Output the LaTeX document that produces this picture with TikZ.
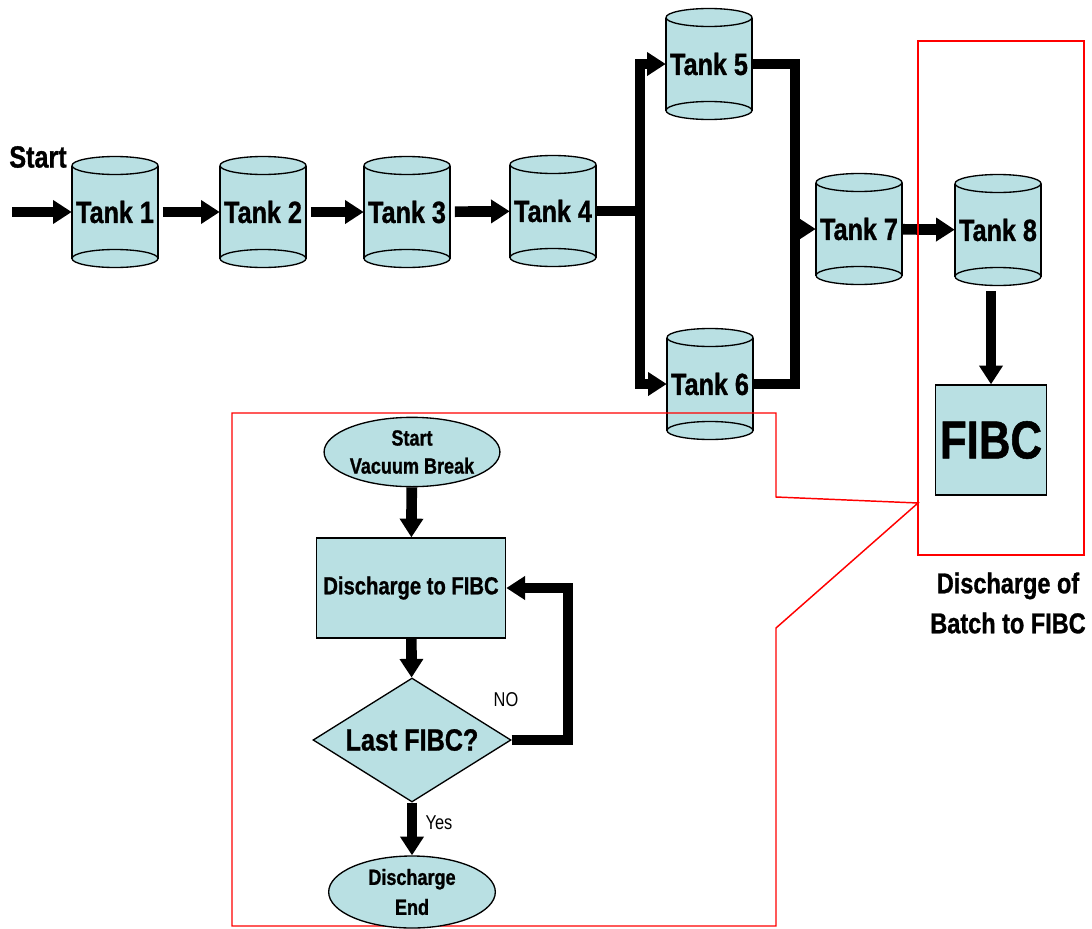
\documentclass[tikz,border=0pt]{standalone}
\usepackage{fontspec}
\newfontfamily\narrow{Liberation Sans}[FakeStretch=0.82, BoldFeatures={FakeBold=1}]
\usetikzlibrary{shapes.geometric, arrows.meta}
\definecolor{tankblue}{RGB}{185,224,227}
\tikzstyle{flow} = [draw, line width=8pt, -{Triangle[length=14pt,width=17pt]}]
\tikzstyle{pipe} = [draw, line width=8pt, line join=miter]
% Tank: Name, Mitte, Text
\newcommand{\tank}[3]{%
  \begin{scope}[shift={(#2)}]
    \fill[tankblue] (-43,-46.5) rectangle (43,46.5);
    \draw[line width=1pt] (-43,-46.5) -- (-43,46.5) (43,-46.5) -- (43,46.5);
    \filldraw[fill=tankblue, line width=1pt] (0,46.5) ellipse [x radius=43, y radius=9];
    \filldraw[fill=tankblue, line width=1pt] (0,-46.5) ellipse [x radius=43, y radius=9];
  \end{scope}
  \node[tanktext] (#1) at (#2) {#3};
}

\begin{document}
\begin{tikzpicture}[x=0.75pt, y=-0.75pt,
    tanktext/.style={minimum width=64.5pt, minimum height=69.75pt, inner sep=0pt,
                     font=\narrow\bfseries\fontsize{23}{27}\selectfont},
    box/.style={draw, fill=tankblue, line width=1pt, inner sep=0pt, align=center},
    note/.style={font=\narrow\fontsize{15}{18}\selectfont}]
  \useasboundingbox (0,0) rectangle (1092,928);

  %Tanks
  \tank{t1}{115,212}{Tank 1}
  \tank{t2}{263,212}{Tank 2}
  \tank{t3}{407,212}{Tank 3}
  \tank{t4}{553,211}{Tank 4}
  \tank{t5}{709,64}{Tank 5}
  \tank{t6}{710,384}{Tank 6}
  \tank{t7}{859,229}{Tank 7}
  \tank{t8}{998,230}{Tank 8}
  \node[font=\narrow\bfseries\fontsize{23}{27}\selectfont] (start) at (38,157) {Start};
  \coordinate (in) at (12,212);
  \coordinate (fork) at (640,211);
  \coordinate (join) at (795,229);

  \draw[flow] (in) -- (t1.west);
  \draw[flow, shorten <=3.5pt] (t1) -- (t2);
  \draw[flow, shorten <=3.5pt] (t2) -- (t3);
  \draw[flow, shorten <=3.5pt] (t3) -- (t4);
  \draw[pipe] (t4.east) -- (fork);
  \draw[pipe, line cap=rect] (fork |- t5) -- (fork |- t6);
  \draw[flow] (fork |- t5) -- (t5.west);
  \draw[flow] (fork |- t6) -- (t6.west);
  \draw[pipe] (t5.east) -| (join) |- (t6.east);
  \draw[flow] (join) -- (t7.west);
  \draw[flow] (t7) -- (t8);

  %FIBC
  \node[box, minimum width=83pt, minimum height=82.5pt,
        font=\narrow\bfseries\fontsize{40}{48}\selectfont] (fibc) at (991,440) {FIBC};
  \draw[flow] ([yshift=-11pt]t8.south -| fibc.north) -- (fibc.north);
  \draw[red, line width=1.1pt] (918,41) rectangle (1084,555);
  \node[align=center, font=\narrow\bfseries\fontsize{21.5}{30}\selectfont] (batch) at (1008,603)
    {Discharge of\\Batch to FIBC};

  %Ablaufdiagramm
  \draw[red, line width=1.1pt] (232,413) -- (776,413) -- (776,497) -- (918,503)
    -- (776,628) -- (776,926) -- (232,926) -- cycle;
  \node[box, ellipse, minimum width=126pt, minimum height=52pt,
        font=\narrow\bfseries\fontsize{16.5}{21}\selectfont] (vac) at (412,452) {Start\\Vacuum Break};
  \node[box, minimum width=142pt, minimum height=75pt,
        font=\narrow\bfseries\fontsize{18.5}{23}\selectfont] (disch) at (411,588) {Discharge to FIBC};
  \node[box, diamond, aspect=1.6, minimum width=148.5pt, minimum height=93pt,
        font=\narrow\bfseries\fontsize{23}{28}\selectfont] (last) at (412,740) {Last FIBC?};
  \node[box, ellipse, minimum width=125pt, minimum height=54pt,
        font=\narrow\bfseries\fontsize{16.5}{22.5}\selectfont] (end) at (412,892) {Discharge\\End};
  \coordinate (back) at (568,740);

  \draw[flow] (vac) -- (disch);
  \draw[flow] (disch) -- (last);
  \draw[flow] (last) -- (end);
  \draw[flow] (last.east) -- (back) |- (disch.east);
  \node[note] (no) at (506,700) {NO};
  \node[note] (yes) at (439,823) {Yes};
\end{tikzpicture}
\end{document}
